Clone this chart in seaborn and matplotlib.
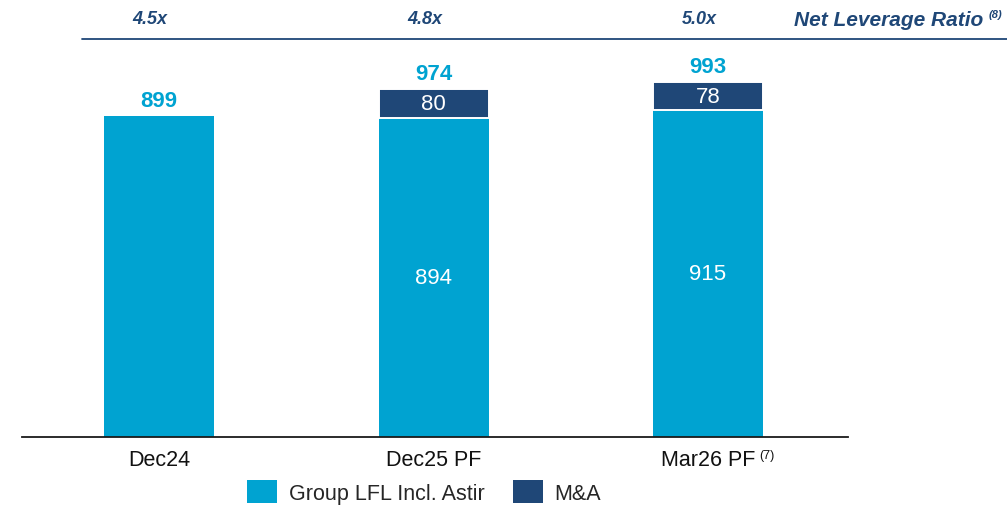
import numpy as np
import pandas as pd
import matplotlib
matplotlib.use("Agg")
import matplotlib.pyplot as plt
from matplotlib.patches import Patch
from matplotlib.lines import Line2D
import seaborn as sns

categories = ["Dec24", "Dec25 PF", "Mar26 PF"]
lfl_values = [899, 894, 915]
mna_values = [np.nan, 80, 78]
totals = [899, 974, 993]
leverage = ["4.5x", "4.8x", "5.0x"]
tick_notes = ["", "", "(7)"]

CYAN = "#00A3D1"
NAVY = "#1F4777"

sns.set_theme(style="white")
plt.rcParams["font.family"] = ["Liberation Sans", "DejaVu Sans"]

fig = plt.figure(figsize=(10.07, 5.06), dpi=100)
ax = fig.add_axes([22 / 1007, 68 / 506, 826 / 1007, (438 - 45.3) / 506])

df = pd.DataFrame({"period": categories, "lfl": lfl_values,
                   "mna": mna_values, "total": totals})
mna_df = df.dropna(subset=["mna"])

sns.barplot(data=df, x="period", y="lfl", order=categories, color=CYAN,
            width=0.4, saturation=1, linewidth=0, ax=ax)
sns.barplot(data=mna_df, x="period", y="mna", order=categories, color=NAVY,
            width=0.4, saturation=1, bottom=mna_df["lfl"].to_numpy(),
            edgecolor="white", linewidth=1.4, ax=ax)

ax.set_xlim(-0.5, 2.51)
ax.set_ylim(0, 1100)
ax.set_xlabel("")
ax.set_ylabel("")
ax.set_yticks([])
for s in ["top", "right", "left"]:
    ax.spines[s].set_visible(False)
ax.spines["bottom"].set_color("#1a1a1a")
ax.spines["bottom"].set_linewidth(1.3)
ax.tick_params(axis="x", length=0, pad=9, labelsize=15.5, labelcolor="#111111")

# segment values
for i, (b, m, t) in enumerate(zip(lfl_values, mna_values, totals)):
    if not np.isnan(m):
        ax.text(i, b / 2, f"{b}", ha="center", va="center", color="white",
                fontsize=16)
        ax.text(i, b + m / 2, f"{int(m)}", ha="center", va="center",
                color="white", fontsize=16)
    ax.annotate(f"{t}", xy=(i, t), xytext=(0, 4), textcoords="offset points",
                ha="center", va="bottom", color=CYAN, fontsize=16,
                fontweight="bold")

# footnote marks on tick labels
for i, note in enumerate(tick_notes):
    if note:
        ax.annotate(note, xy=(i, 0), xytext=(37, -8.5),
                    textcoords="offset points", ha="left", va="top",
                    fontsize=9, color="#111111")

# leverage row
for i, lev in enumerate(leverage):
    xf = (150 + i * 274.5) / 1007
    fig.text(xf, 1 - 19 / 506, lev, ha="center", va="center", color=NAVY,
             fontsize=13, fontweight="bold", fontstyle="italic")
fig.text(983 / 1007, 1 - 20 / 506, "Net Leverage Ratio", ha="right",
         va="center", color=NAVY, fontsize=15, fontweight="bold",
         fontstyle="italic")
fig.text(989 / 1007, 1 - 15 / 506, "(8)", ha="left", va="center",
         color=NAVY, fontsize=8, fontweight="bold", fontstyle="italic")
fig.add_artist(Line2D([82 / 1007, 1.0], [1 - 40 / 506, 1 - 40 / 506],
                      color=NAVY, linewidth=1.3, transform=fig.transFigure))

handles = [Patch(facecolor=CYAN, edgecolor="none"),
           Patch(facecolor=NAVY, edgecolor="none")]
fig.legend(handles, ["Group LFL Incl. Astir", "M&A"], loc="center",
           bbox_to_anchor=(424 / 1007, 1 - 493 / 506), ncol=2, frameon=False,
           fontsize=15.5, handlelength=1.4, handleheight=1.3,
           columnspacing=1.3, handletextpad=0.55)

fig.savefig("out.png", dpi=100)
